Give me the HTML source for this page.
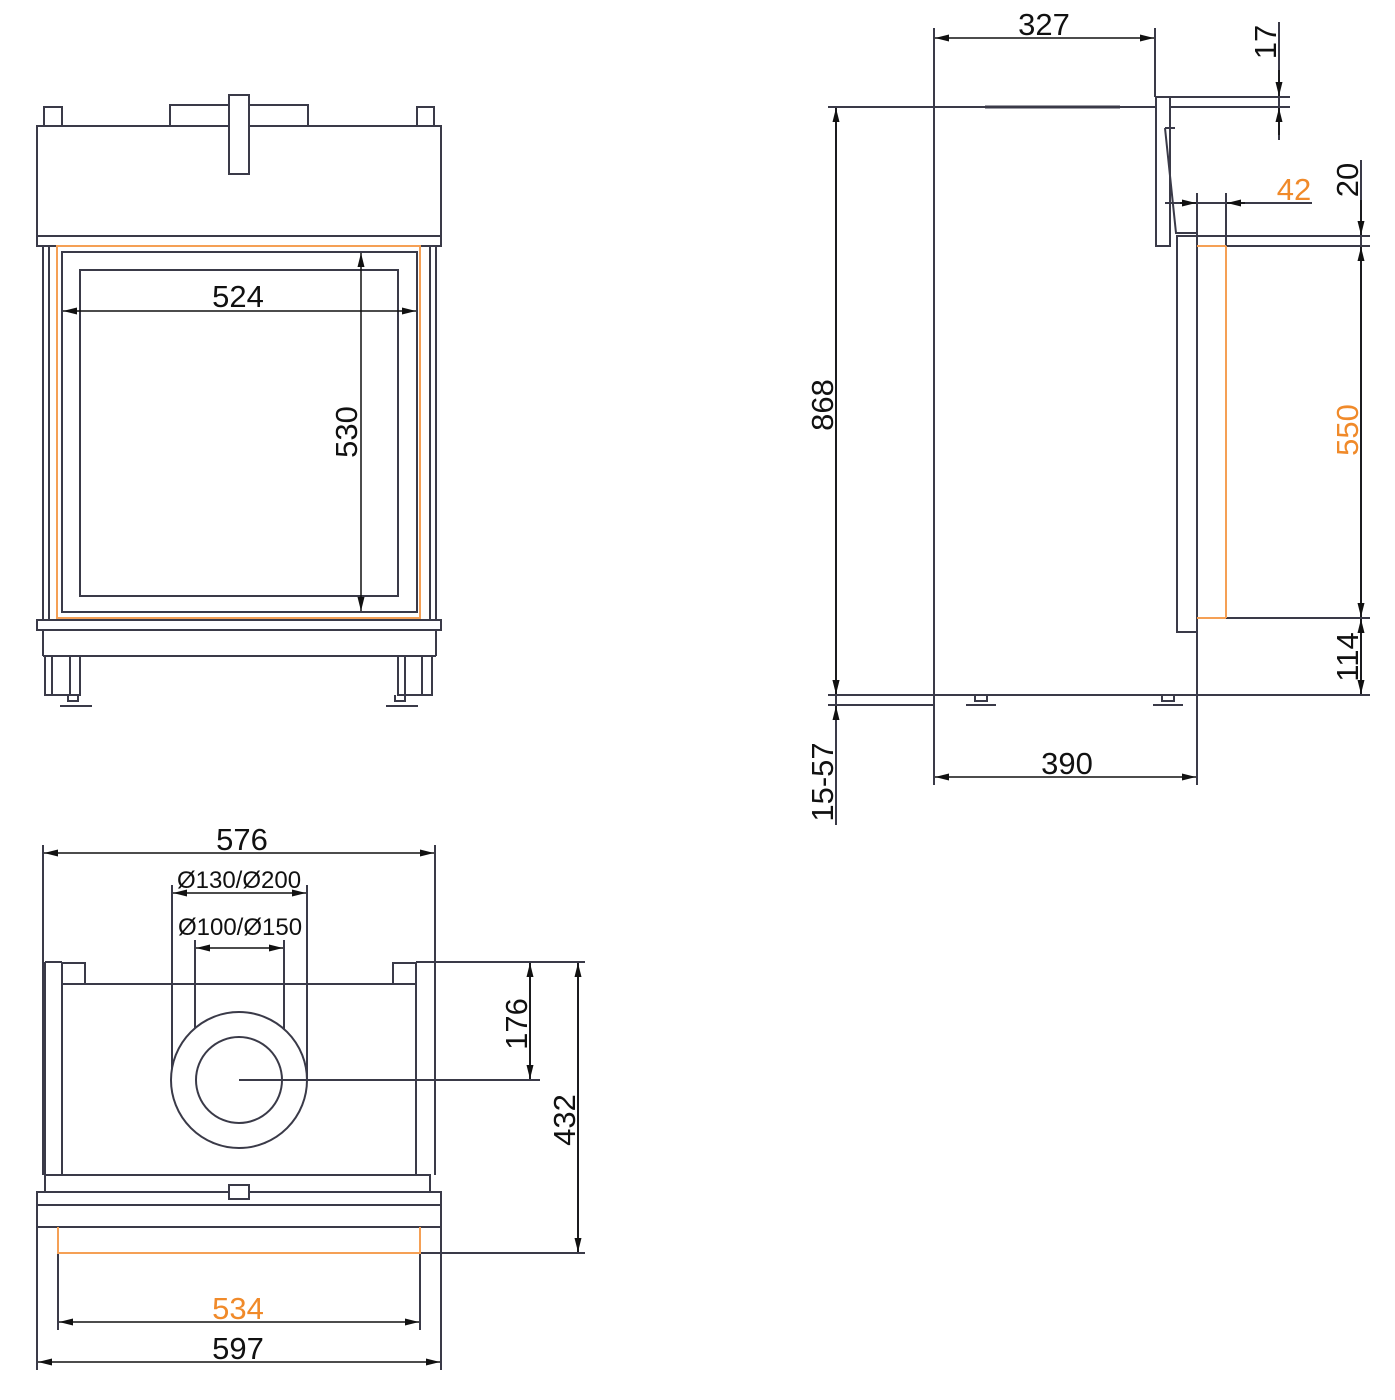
<!DOCTYPE html>
<html><head><style>html,body{margin:0;padding:0;background:#fff}svg{display:block}text{font-family:"Liberation Sans",sans-serif;font-size:31px;fill:#111}</style></head><body>
<svg width="1395" height="1400" viewBox="0 0 1395 1400" xmlns="http://www.w3.org/2000/svg">
<defs>
<marker id="a" viewBox="0 0 14 7" refX="14" refY="3.5" markerWidth="14" markerHeight="7" orient="auto-start-reverse" markerUnits="userSpaceOnUse"><path d="M0,0L14,3.5L0,7z" fill="#111"/></marker>
</defs>
<g fill="none" stroke="#3a3a48" stroke-width="2">
<rect x="44" y="107" width="18" height="19"/><rect x="417" y="107" width="17" height="19"/>
<rect x="170" y="105" width="138" height="21"/>
<rect x="37" y="126" width="404" height="110"/>
<rect x="229" y="95" width="20" height="79" fill="#fff"/>
<rect x="37" y="236" width="404" height="10"/>
<line x1="43" y1="246" x2="43" y2="620"/><line x1="49" y1="246" x2="49" y2="620"/>
<line x1="430" y1="246" x2="430" y2="620"/><line x1="436" y1="246" x2="436" y2="620"/>
<rect x="62" y="252" width="355" height="360"/>
<rect x="80" y="270" width="318" height="326"/>
<rect x="37" y="620" width="404" height="10"/>
<line x1="43" y1="630" x2="43" y2="656"/><line x1="436" y1="630" x2="436" y2="656"/>
<line x1="43" y1="656" x2="436" y2="656"/>
<rect x="45" y="656" width="35" height="39"/><line x1="52" y1="656" x2="52" y2="695"/><line x1="70" y1="656" x2="70" y2="695"/>
<rect x="398" y="656" width="34" height="39"/><line x1="405" y1="656" x2="405" y2="695"/><line x1="422" y1="656" x2="422" y2="695"/>
<path d="M68 695v6h10v-6M60 706h32M395 695v6h10v-6M386 706h32"/>
<line x1="934" y1="28" x2="934" y2="785"/>
<line x1="1155" y1="28" x2="1155" y2="97"/>
<line x1="828" y1="107" x2="1155" y2="107"/>
<line x1="985" y1="107" x2="1120" y2="107" stroke-width="3"/>
<rect x="1156" y="97" width="14" height="149"/>
<line x1="1170" y1="97" x2="1290" y2="97"/><line x1="1170" y1="107" x2="1290" y2="107"/>
<path d="M1165 128h10M1165 128l11 105h20"/>
<line x1="1177" y1="236" x2="1370" y2="236"/><line x1="1197" y1="246" x2="1370" y2="246"/>
<rect x="1177" y="236" width="20" height="396"/>
<line x1="1197" y1="618" x2="1197" y2="695"/>
<line x1="1226" y1="618" x2="1370" y2="618"/>
<line x1="828" y1="695" x2="1370" y2="695"/>
<line x1="828" y1="705" x2="934" y2="705"/>
<line x1="1197" y1="193" x2="1197" y2="246"/><line x1="1226" y1="193" x2="1226" y2="246"/>
<line x1="1165" y1="203" x2="1312" y2="203"/>
<path d="M975 695v6h12v-6M966 705h30M1162 695v6h12v-6M1153 705h30"/>
<line x1="1197" y1="695" x2="1197" y2="785"/>
<line x1="1279" y1="22" x2="1279" y2="140"/>
<line x1="1361" y1="160" x2="1361" y2="695"/>
<line x1="836" y1="107" x2="836" y2="825"/>
<line x1="43" y1="845" x2="43" y2="1175"/><line x1="435" y1="845" x2="435" y2="1175"/>
<line x1="172" y1="885" x2="172" y2="1080"/><line x1="307" y1="885" x2="307" y2="1080"/>
<line x1="195" y1="940" x2="195" y2="1080"/><line x1="284" y1="940" x2="284" y2="1080"/>
<line x1="45" y1="962" x2="45" y2="1175"/><line x1="62" y1="962" x2="62" y2="1175"/>
<path d="M45 962h17M62 963h23v21M416 963h-23v21"/>
<line x1="62" y1="984" x2="416" y2="984"/>
<line x1="416" y1="962" x2="416" y2="1175"/><line x1="416" y1="962" x2="585" y2="962"/>
<circle cx="239" cy="1080" r="68" fill="#fff"/><circle cx="239" cy="1080" r="43" fill="#fff"/>
<line x1="239" y1="1080" x2="540" y2="1080"/>
<rect x="45" y="1175" width="385" height="17"/>
<rect x="37" y="1192" width="404" height="13"/>
<rect x="37" y="1205" width="404" height="22"/>
<rect x="229" y="1185" width="20" height="14" fill="#fff"/>
<line x1="37" y1="1227" x2="37" y2="1370"/><line x1="441" y1="1227" x2="441" y2="1370"/>
<line x1="58" y1="1253" x2="58" y2="1330"/><line x1="420" y1="1253" x2="420" y2="1330"/>
<line x1="420" y1="1253" x2="585" y2="1253"/>
<line x1="530" y1="962" x2="530" y2="1080"/>
<line x1="578" y1="962" x2="578" y2="1253"/>
</g>
<g fill="none" stroke="#f5a055" stroke-width="2">
<rect x="57" y="246" width="363" height="372"/>
<path d="M1197 618h29M1226 246v372M1197 246h29"/>
<path d="M58 1227v26h362v-26"/>
</g>
<g stroke="#111" stroke-width="1.5" fill="none" marker-start="url(#a)" marker-end="url(#a)">
<line x1="63" y1="311" x2="416" y2="311"/>
<line x1="361" y1="253" x2="361" y2="611"/>
<line x1="935" y1="38" x2="1154" y2="38"/>
<line x1="836" y1="108" x2="836" y2="694"/>
<line x1="935" y1="777" x2="1196" y2="777"/>
<line x1="1361" y1="247" x2="1361" y2="617"/>
<line x1="1361" y1="619" x2="1361" y2="694"/>
<line x1="44" y1="853" x2="434" y2="853"/>
<line x1="173" y1="893" x2="306" y2="893"/>
<line x1="196" y1="948" x2="283" y2="948"/>
<line x1="530" y1="963" x2="530" y2="1079"/>
<line x1="578" y1="963" x2="578" y2="1252"/>
<line x1="59" y1="1322" x2="419" y2="1322"/>
<line x1="38" y1="1362" x2="440" y2="1362"/>
</g>
<g stroke="#111" stroke-width="1.5" fill="none" marker-end="url(#a)">
<line x1="1279" y1="70" x2="1279" y2="96"/><line x1="1279" y1="135" x2="1279" y2="108"/>
<line x1="1361" y1="200" x2="1361" y2="235"/>
<line x1="836" y1="680" x2="836" y2="694"/><line x1="836" y1="720" x2="836" y2="706"/>
<line x1="1180" y1="203" x2="1196" y2="203"/><line x1="1245" y1="203" x2="1227" y2="203"/>
</g>
<text x="238" y="307" text-anchor="middle">524</text>
<text transform="translate(357,432) rotate(-90)" text-anchor="middle">530</text>
<text x="1044" y="35" text-anchor="middle">327</text>
<text transform="translate(1276,42) rotate(-90)" text-anchor="middle">17</text>
<text transform="translate(1358,180) rotate(-90)" text-anchor="middle">20</text>
<text x="1294" y="200" text-anchor="middle" style="fill:#f08a2a">42</text>
<text transform="translate(1358,430) rotate(-90)" text-anchor="middle" style="fill:#f08a2a">550</text>
<text transform="translate(1358,657) rotate(-90)" text-anchor="middle">114</text>
<text transform="translate(833,405) rotate(-90)" text-anchor="middle">868</text>
<text transform="translate(833,782) rotate(-90)" text-anchor="middle">15-57</text>
<text x="1067" y="774" text-anchor="middle">390</text>
<text x="242" y="850" text-anchor="middle">576</text>
<text x="239" y="888" text-anchor="middle" style="font-size:24px">Ø130/Ø200</text>
<text x="240" y="935" text-anchor="middle" style="font-size:24px">Ø100/Ø150</text>
<text transform="translate(527,1024) rotate(-90)" text-anchor="middle">176</text>
<text transform="translate(575,1120) rotate(-90)" text-anchor="middle">432</text>
<text x="238" y="1319" text-anchor="middle" style="fill:#f08a2a">534</text>
<text x="238" y="1359" text-anchor="middle">597</text>
</svg>
</body></html>
